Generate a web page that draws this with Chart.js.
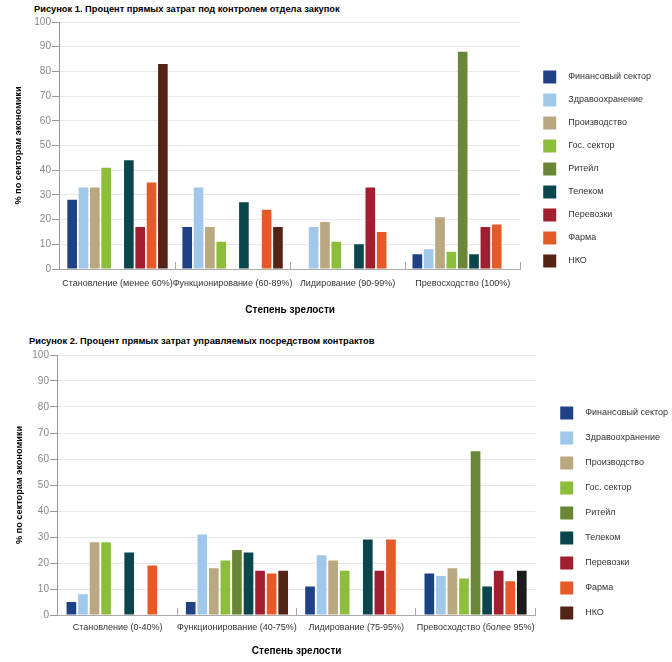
<!DOCTYPE html>
<html lang="ru">
<head>
<meta charset="utf-8">
<title>Степень зрелости</title>
<script src="https://cdn.jsdelivr.net/npm/chart.js@4.4.1/dist/chart.umd.min.js"></script>
<style>
  html, body { margin: 0; padding: 0; background: #fff; overflow: hidden; width: 672px; height: 662px; }
  .fig-title { position: absolute; font: bold 9.3px "Liberation Sans", Arial, sans-serif; line-height: 12px; color: #000; white-space: nowrap; }
  .box { position: absolute; left: 0; width: 720px; }
</style>
</head>
<body>
<div class="fig-title" style="top:3px; left:34px">Рисунок 1. Процент прямых затрат под контролем отдела закупок</div>
<div class="box" style="top:15px; height:306px"><canvas id="chart1"></canvas></div>
<div class="fig-title" style="top:335px; left:29px">Рисунок 2. Процент прямых затрат управляемых посредством контрактов</div>
<div class="box" style="top:348px; height:326px"><canvas id="chart2"></canvas></div>
<script>
const sectors = ['Финансовый сектор', 'Здравоохранение', 'Производство', 'Гос. сектор', 'Ритейл', 'Телеком', 'Перевозки', 'Фарма', 'НКО'];
const sectorColors = ['#1f4287', '#a0c8eb', '#b9a880', '#8cbe3c', '#698737', '#0a464b', '#a01e2d', '#e65a28', '#552314'];

// Рисунок 1 — значения по секторам (в порядке sectors) для каждой стадии
const stages1 = ['Становление (менее 60%)', 'Функционирование (60-89%)', 'Лидирование (90-99%)', 'Превосходство (100%)'];
const fig1Stanovlenie   = [28, 33, 33, 41, 0, 44, 17, 35, 83];
const fig1Funkcionirov  = [17, 33, 17, 11, 0, 27, 0, 24, 17];
const fig1Lidirovanie   = [0, 17, 19, 11, 0, 10, 33, 15, 0];
const fig1Prevoshodstvo = [6, 8, 21, 7, 88, 6, 17, 18, 0];

// Рисунок 2
const stages2 = ['Становление (0-40%)', 'Функционирование (40-75%)', 'Лидирование (75-95%)', 'Превосходство (более 95%)'];
const fig2Stanovlenie   = [5, 8, 28, 28, 0, 24, 0, 19, 0];
const fig2Funkcionirov  = [5, 31, 18, 21, 25, 24, 17, 16, 17];
const fig2Lidirovanie   = [11, 23, 21, 17, 0, 29, 17, 29, 0];
const fig2Prevoshodstvo = [16, 15, 18, 14, 63, 11, 17, 13, 17];
// у НКО в последней группе рисунка 2 столбец почти чёрный
const fig2NkoBarColors = ['#552314', '#552314', '#552314', '#1c1c1c'];

const fam = '"Liberation Sans", Arial, sans-serif';

function drawFigure(id, stages, rows, g) {
    const datasets = sectors.map((name, i) => ({
        label: name,
        data: rows.map(r => r[i]),
        backgroundColor: (i === 8 && g.nkoColors) ? g.nkoColors : sectorColors[i],
        borderWidth: 0,
        categoryPercentage: g.cat,
        barPercentage: g.bar
    }));
    return new Chart(document.getElementById(id), {
        type: 'bar',
        data: { labels: stages, datasets },
        options: {
            responsive: true,
            maintainAspectRatio: false,
            animation: false,
            layout: { padding: { top: g.padTop, right: g.padRight, bottom: 0, left: 4 } },
            plugins: {
                tooltip: { enabled: false },
                legend: {
                    position: 'right',
                    labels: {
                        boxWidth: 13, boxHeight: 13, padding: g.legendGap, color: '#333',
                        font: { family: fam, size: 9 },
                        generateLabels: chart => Chart.defaults.plugins.legend.labels.generateLabels(chart)
                            .map((l, i) => ({ ...l, text: '   ' + l.text, fillStyle: sectorColors[i], lineWidth: 0 }))
                    }
                }
            },
            scales: {
                x: {
                    grid: { display: true, offset: true, drawOnChartArea: false, drawTicks: true, tickLength: -7, tickColor: '#aaa' },
                    border: { color: '#aaa' },
                    ticks: { color: '#333', padding: g.xPad, maxRotation: 0, autoSkip: false, font: { family: fam, size: 9 } },
                    title: { display: true, text: 'Степень зрелости', color: '#000', font: { family: fam, size: 10, weight: 'bold' },
                             padding: { top: g.xTitleTop, bottom: g.xTitleBottom } }
                },
                y: {
                    min: 0, max: 100,
                    ticks: { stepSize: 10, color: '#888', padding: 1, font: { family: fam, size: 10 } },
                    grid: { color: '#e8e8e8', tickColor: '#999', tickLength: 8 },
                    border: { color: '#999' },
                    title: { display: true, text: '% по секторам экономики', color: '#000', font: { family: fam, size: 9.2, weight: 'bold' },
                             padding: { top: g.yTitleTop, bottom: g.yTitleBottom } }
                },
                // пустое место между областью графика и легендой
                gap: {
                    type: 'linear', position: 'right', display: false,
                    afterFit: s => { s.width = 13; }
                }
            }
        }
    });
}

drawFigure('chart1', stages1, [fig1Stanovlenie, fig1Funkcionirov, fig1Lidirovanie, fig1Prevoshodstvo], {
    cat: 0.887, bar: 0.85, padTop: 2, padRight: 59, legendGap: 10,
    xPad: 16.6, xTitleTop: -2, xTitleBottom: 5, yTitleTop: 8.5, yTitleBottom: 9.76
});
drawFigure('chart2', stages2, [fig2Stanovlenie, fig2Funkcionirov, fig2Lidirovanie, fig2Prevoshodstvo], {
    cat: 0.872, bar: 0.836, padTop: 4, padRight: 42, legendGap: 12, nkoColors: fig2NkoBarColors,
    xPad: 14.6, xTitleTop: -3, xTitleBottom: 17, yTitleTop: 9.5, yTitleBottom: 6.76
});
</script>
</body>
</html>
